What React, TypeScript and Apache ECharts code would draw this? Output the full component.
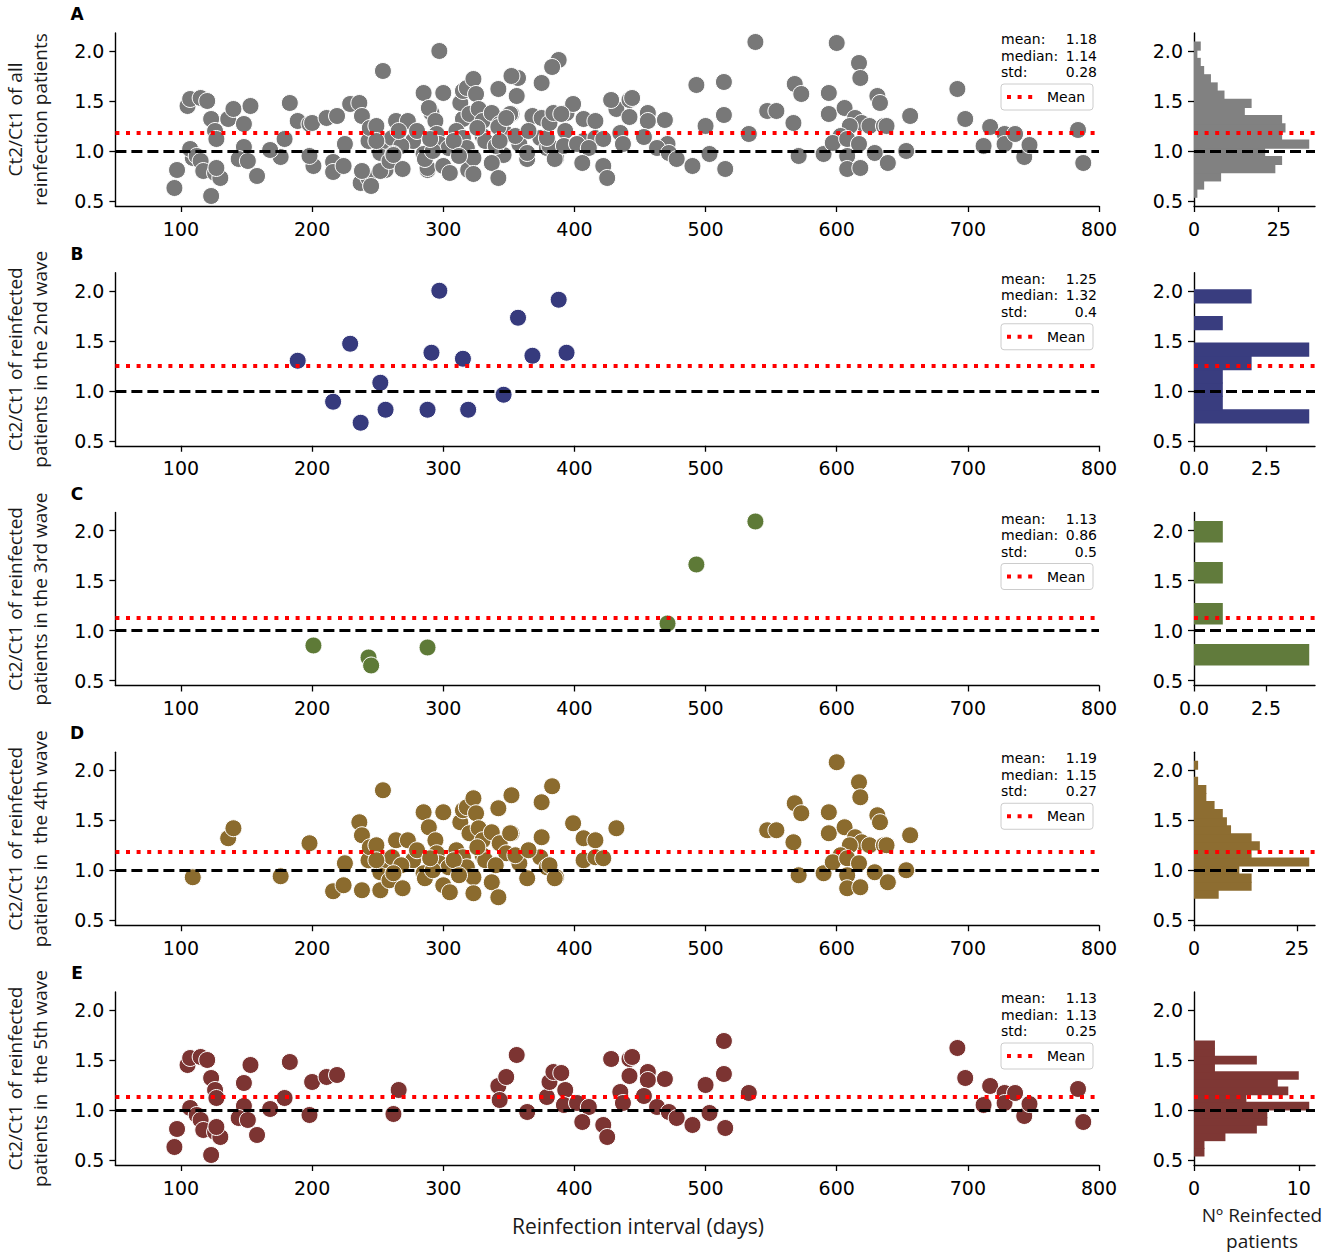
import React, { useEffect, useRef } from "react";
import * as echarts from "echarts";

// ---------- tick labels ----------
const xTicks = [100, 200, 300, 400, 500, 600, 700, 800];
const yTicks = [0.5, 1.0, 1.5, 2.0];
const histTicks = [[0, 25], [0, 2.5], [0, 2.5], [0, 25], [0, 10]];

// ---------- scatter data: [reinfection interval (days), Ct2/Ct1] ----------
const wave2Points = [
  [189, 1.30], [229, 1.47], [216, 0.89], [237, 0.68], [252, 1.08], [256, 0.81], [297, 2.00], [291, 1.38],
  [288, 0.81], [315, 1.32], [319, 0.81], [346, 0.96], [357, 1.73], [368, 1.35], [388, 1.91], [394, 1.38],
];
const wave3Points = [
  [201, 0.85], [243, 0.73], [245, 0.65], [288, 0.83], [471, 1.07], [493, 1.66], [538, 2.09],
];
const wave4Points = [
  [109, 0.93], [136, 1.32], [140, 1.42], [176, 0.94], [198, 1.27], [216, 0.79], [224, 0.85], [225, 1.07],
  [236, 1.48], [238, 1.35], [238, 0.80], [254, 1.80], [243, 1.10], [244, 1.23], [249, 1.25], [252, 0.98],
  [252, 0.80], [257, 1.10], [259, 0.90], [261, 1.13], [264, 1.30], [269, 0.82], [273, 1.30], [277, 1.10],
  [285, 1.58], [289, 1.43], [285, 0.97], [286, 0.92], [294, 1.30], [295, 1.17], [300, 1.58], [300, 0.85],
  [305, 0.78], [297, 1.07], [304, 1.03], [310, 1.20], [313, 1.48], [315, 1.60], [318, 1.63], [323, 1.72],
  [325, 1.57], [320, 1.37], [327, 1.42], [330, 1.30], [315, 1.13], [318, 1.03], [323, 0.93], [323, 0.77],
  [330, 1.15], [332, 1.10], [337, 0.88], [337, 1.38], [342, 1.62], [343, 1.27], [342, 0.73], [352, 1.75],
  [352, 1.37], [348, 1.17], [358, 1.07], [364, 0.92], [375, 1.68], [383, 1.84], [375, 1.33], [374, 1.13],
  [379, 1.03], [386, 0.93], [399, 1.47], [407, 1.32], [416, 1.30], [407, 1.10], [416, 1.13], [422, 1.12],
  [432, 1.42], [381, 1.05], [385, 0.92], [351, 1.37], [249, 1.10], [268, 1.05], [280, 1.20], [292, 1.00],
  [308, 1.10], [326, 1.23], [340, 1.05], [355, 1.15], [365, 1.20], [290, 1.12], [312, 0.95], [262, 0.97],
  [547, 1.40], [554, 1.40], [568, 1.67], [573, 1.57], [567, 1.28], [571, 0.95], [590, 0.97], [594, 1.58],
  [594, 1.37], [600, 2.08], [617, 1.88], [618, 1.73], [606, 1.43], [614, 1.33], [619, 1.28], [625, 1.25],
  [631, 1.55], [633, 1.48], [636, 1.25], [638, 1.25], [610, 1.25], [603, 1.15], [597, 1.08], [608, 1.12],
  [617, 1.07], [608, 0.95], [608, 0.82], [618, 0.83], [629, 0.98], [639, 0.88], [653, 1.00], [656, 1.35],
];
const wave5Points = [
  [95, 0.63], [97, 0.81], [105, 1.45], [107, 1.52], [115, 1.53], [120, 1.50], [107, 1.02], [112, 0.95],
  [115, 0.90], [117, 0.80], [123, 1.32], [126, 1.20], [127, 1.12], [126, 0.78], [130, 0.73], [123, 0.55],
  [127, 0.83], [153, 1.45], [148, 1.27], [148, 1.04], [144, 0.92], [151, 0.90], [158, 0.75], [168, 1.01],
  [179, 1.12], [183, 1.48], [198, 0.95], [200, 1.28], [211, 1.33], [219, 1.35], [262, 0.96], [266, 1.20],
  [342, 1.24], [343, 1.10], [348, 1.33], [356, 1.55], [364, 0.98], [379, 1.13], [381, 1.28], [384, 1.38],
  [390, 1.37], [393, 1.20], [392, 1.05], [402, 1.07], [411, 1.03], [406, 0.88], [422, 0.85], [425, 0.73],
  [428, 1.51], [442, 1.51], [444, 1.53], [442, 1.34], [435, 1.18], [437, 1.07], [456, 1.38], [456, 1.30],
  [469, 1.31], [453, 1.14], [463, 1.03], [472, 0.98], [478, 0.92], [490, 0.85], [500, 1.25], [503, 0.97],
  [514, 1.69], [514, 1.36], [515, 0.82], [533, 1.17], [692, 1.62], [698, 1.32], [717, 1.24], [712, 1.05],
  [728, 1.17], [728, 1.07], [736, 1.17], [743, 0.94], [747, 1.06], [784, 1.21], [788, 0.88],
];
const allPoints = [...wave2Points, ...wave3Points, ...wave4Points, ...wave5Points];

// ---------- histogram data (counts per bin, bottom -> top) ----------
const histAllCounts = [1, 3, 8, 24, 26, 21, 34, 26, 27, 26, 15, 17, 9, 7, 5, 3, 2, 1, 2];
const histWave2Counts = [4, 1, 1, 1, 2, 4, 0, 1, 0, 2];
const histWave3Counts = [4, 0, 1, 0, 1, 0, 1];
const histWave4Counts = [6, 14, 14, 11, 28, 14, 16, 14, 9, 8, 7, 5, 3, 3, 1, 0, 1];
const histWave5Counts = [1, 1, 3, 6, 7, 7, 11, 5, 9, 8, 10, 2, 6, 2, 2];
const histRanges = [[0.537, 2.09], [0.678, 2.01], [0.654, 2.09], [0.72, 2.09], [0.54, 1.69]];

// ---------- statistics shown in each panel ----------
const meanValues = [1.18, 1.25, 1.13, 1.19, 1.13];
const meanLabels = ["1.18", "1.25", "1.13", "1.19", "1.13"];
const medianLabels = ["1.14", "1.32", "0.86", "1.15", "1.13"];
const stdLabels = ["0.28", "0.4", "0.5", "0.27", "0.25"];

// ---------- texts ----------
const panelLetters = ["A", "B", "C", "D", "E"];
const yTitles = [
  ["Ct2/Ct1 of all", "reinfection patients"],
  ["Ct2/Ct1 of reinfected", "patients in the 2nd wave"],
  ["Ct2/Ct1 of reinfected", "patients in the 3rd wave"],
  ["Ct2/Ct1 of reinfected", "patients in  the 4th wave"],
  ["Ct2/Ct1 of reinfected", "patients in  the 5th wave"],
];
const xTitle = "Reinfection interval (days)";
const histTitle = ["Nº Reinfected", "patients"];

// ---------- styles ----------
const pointColors = ["#787878", "#363a7d", "#5e7a37", "#8b6b2e", "#7c3432"];
const histColors = ["#818181", "#393d7f", "#617b3c", "#8d6d31", "#7e3734"];

const panelPoints = [allPoints, wave2Points, wave3Points, wave4Points, wave5Points];
const panelHist = [histAllCounts, histWave2Counts, histWave3Counts, histWave4Counts, histWave5Counts];

const TICK_FONT = "DejaVu Sans";
const TITLE_FONT = "Open Sans";

export default function App() {
  const ref = useRef<HTMLDivElement>(null);

  useEffect(() => {
    if (!ref.current) return;
    const chart = echarts.init(ref.current, undefined, { renderer: "svg" });

    const panelTop = (i: number) => 33 + 239.75 * i;
    const panelH = 173;
    const scLeft = 115.4;
    const scWidth = 983.6;
    const hLeft = 1194;
    const hWidth = 121;

    const grids: any[] = [];
    const xAxes: any[] = [];
    const yAxes: any[] = [];
    const series: any[] = [];
    const graphics: any[] = [];

    const axisLine = { show: true, onZero: false, lineStyle: { color: "#000", width: 1.4 } };
    const tickStyle = { color: "#000", width: 1.3 };
    const labelStyle = { fontFamily: TICK_FONT, fontSize: 19, color: "#000" };

    const meanMarkLine = (mean: number) => ({
      silent: true,
      symbol: ["none", "none"],
      label: { show: false },
      animation: false,
      z: 10,
      data: [
        { yAxis: 1.0, lineStyle: { color: "#000", width: 3, type: [11, 5], cap: "butt" } },
        { yAxis: mean, lineStyle: { color: "#ff0000", width: 4, type: [4, 6.6], cap: "butt" } },
      ],
    });

    for (let i = 0; i < 5; i++) {
      const top = panelTop(i);
      grids.push({ left: scLeft, top, width: scWidth, height: panelH, outerBoundsMode: "none" });
      grids.push({ left: hLeft, top, width: hWidth, height: panelH, outerBoundsMode: "none" });
    }

    for (let i = 0; i < 5; i++) {
      xAxes.push({
        gridIndex: 2 * i,
        type: "value",
        min: 50,
        max: 800,
        axisLine,
        axisTick: { show: true, length: 6, lineStyle: tickStyle, customValues: xTicks },
        axisLabel: { ...labelStyle, margin: 13, customValues: xTicks },
        splitLine: { show: false },
      });
      yAxes.push({
        gridIndex: 2 * i,
        type: "value",
        min: 0.45,
        max: 2.18,
        axisLine,
        axisTick: { show: true, length: 6, lineStyle: tickStyle, customValues: yTicks },
        axisLabel: {
          ...labelStyle,
          margin: 11,
          customValues: yTicks,
          formatter: (v: number) => v.toFixed(1),
        },
        splitLine: { show: false },
      });
      const counts = panelHist[i];
      const hMax = Math.max(...counts) * 1.05;
      const ht = histTicks[i];
      const decimals = ht[1] % 1 !== 0 ? 1 : 0;
      xAxes.push({
        gridIndex: 2 * i + 1,
        type: "value",
        min: 0,
        max: hMax,
        axisLine,
        axisTick: { show: true, length: 6, lineStyle: tickStyle, customValues: ht },
        axisLabel: {
          ...labelStyle,
          margin: 13,
          customValues: ht,
          formatter: (v: number) => v.toFixed(decimals),
        },
        splitLine: { show: false },
      });
      yAxes.push({
        gridIndex: 2 * i + 1,
        type: "value",
        min: 0.45,
        max: 2.18,
        axisLine,
        axisTick: { show: true, length: 6, lineStyle: tickStyle, customValues: yTicks },
        axisLabel: {
          ...labelStyle,
          margin: 11,
          customValues: yTicks,
          formatter: (v: number) => v.toFixed(1),
        },
        splitLine: { show: false },
      });
    }

    for (let i = 0; i < 5; i++) {
      series.push({
        type: "scatter",
        xAxisIndex: 2 * i,
        yAxisIndex: 2 * i,
        data: panelPoints[i],
        symbol: "circle",
        symbolSize: 17,
        itemStyle: { color: pointColors[i], borderColor: "#ffffff", borderWidth: 1, opacity: 1 },
        emphasis: { disabled: true },
        markLine: meanMarkLine(meanValues[i]),
        z: 2,
      });

      const counts = panelHist[i];
      const [lo, hi] = histRanges[i];
      const w = (hi - lo) / counts.length;
      const histData = counts.map((c, k) => [lo + k * w, lo + (k + 1) * w, c]);
      const color = histColors[i];
      series.push({
        type: "custom",
        xAxisIndex: 2 * i + 1,
        yAxisIndex: 2 * i + 1,
        data: histData,
        dimensions: ["y0", "y1", "count"],
        encode: { x: 2, y: [0, 1] },
        clip: true,
        renderItem: (params: any, api: any) => {
          const c = api.value(2);
          if (!c) return null;
          const p0 = api.coord([0, api.value(0)]);
          const p1 = api.coord([c, api.value(1)]);
          return {
            type: "rect",
            shape: {
              x: p0[0],
              y: p1[1] - 0.5,
              width: p1[0] - p0[0],
              height: p0[1] - p1[1] + 1,
            },
            style: { fill: color },
          };
        },
        markLine: meanMarkLine(meanValues[i]),
        z: 2,
      });
    }

    for (let i = 0; i < 5; i++) {
      const top = panelTop(i);
      graphics.push({
        type: "text",
        x: 77,
        y: top - 19,
        style: {
          text: panelLetters[i],
          fontFamily: TICK_FONT,
          fontWeight: "bold",
          fontSize: 17,
          fill: "#000",
          align: "center",
          verticalAlign: "middle",
        },
      });
      graphics.push({
        type: "text",
        x: 27,
        y: top + panelH / 2,
        rotation: Math.PI / 2,
        style: {
          text: yTitles[i].join("\n"),
          fontFamily: TITLE_FONT,
          fontSize: 19,
          lineHeight: 25,
          fill: "#1a1a1a",
          align: "center",
          verticalAlign: "middle",
        },
      });
      const statNames = ["mean:", "median:", "std:"];
      const statVals = [meanLabels[i], medianLabels[i], stdLabels[i]];
      for (let k = 0; k < 3; k++) {
        graphics.push({
          type: "text",
          x: 1001,
          y: top + 6 + 16.5 * k,
          style: {
            text: statNames[k],
            fontFamily: TICK_FONT,
            fontSize: 14,
            fill: "#000",
            align: "left",
            verticalAlign: "middle",
          },
        });
        graphics.push({
          type: "text",
          x: 1097,
          y: top + 6 + 16.5 * k,
          style: {
            text: statVals[k],
            fontFamily: TICK_FONT,
            fontSize: 14,
            fill: "#000",
            align: "right",
            verticalAlign: "middle",
          },
        });
      }
      graphics.push({
        type: "rect",
        shape: { x: 1001, y: top + 51, width: 92, height: 26, r: 3 },
        style: { fill: "rgba(255,255,255,0.85)", stroke: "#cccccc", lineWidth: 1 },
        z: 20,
      });
      graphics.push({
        type: "line",
        shape: { x1: 1007, y1: top + 64, x2: 1033, y2: top + 64 },
        style: { stroke: "#ff0000", lineWidth: 4, lineDash: [4, 6.6] },
        z: 21,
      });
      graphics.push({
        type: "text",
        x: 1047,
        y: top + 64,
        z: 21,
        style: {
          text: "Mean",
          fontFamily: TICK_FONT,
          fontSize: 14,
          fill: "#000",
          align: "left",
          verticalAlign: "middle",
        },
      });
    }
    graphics.push({
      type: "text",
      x: 638,
      y: 1226,
      style: {
        text: xTitle,
        fontFamily: TITLE_FONT,
        fontSize: 21,
        fill: "#1a1a1a",
        align: "center",
        verticalAlign: "middle",
      },
    });
    graphics.push({
      type: "text",
      x: 1262,
      y: 1228,
      style: {
        text: histTitle.join("\n"),
        fontFamily: TITLE_FONT,
        fontSize: 19,
        lineHeight: 26,
        fill: "#1a1a1a",
        align: "center",
        verticalAlign: "middle",
      },
    });

    chart.setOption({
      animation: false,
      backgroundColor: "#ffffff",
      grid: grids,
      xAxis: xAxes,
      yAxis: yAxes,
      series,
      graphic: graphics,
    });

    return () => chart.dispose();
  }, []);

  return (
    <div
      ref={ref}
      style={{ position: "absolute", left: 0, top: 0, width: 1325, height: 1255, background: "#fff" }}
    />
  );
}
